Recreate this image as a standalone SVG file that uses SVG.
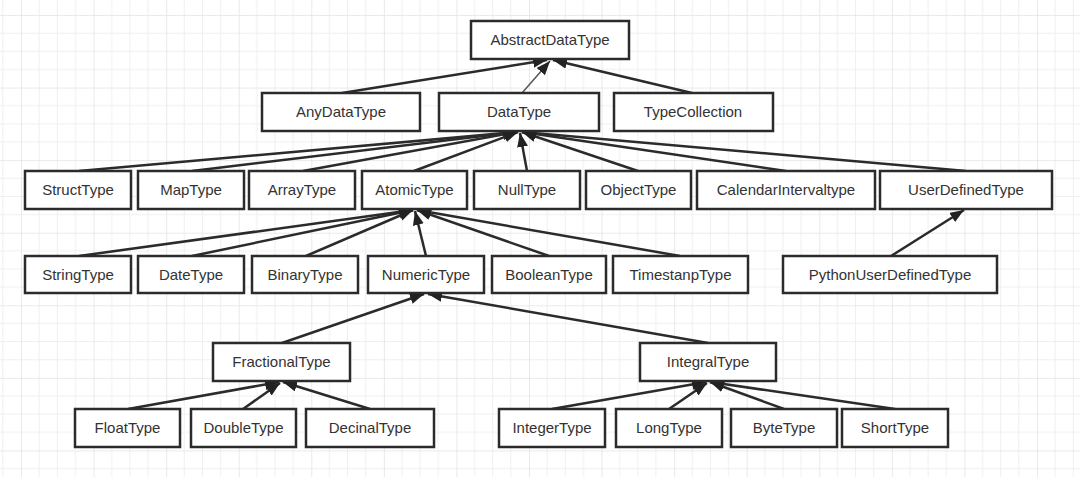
<svg xmlns="http://www.w3.org/2000/svg" width="1080" height="477" viewBox="0 0 1080 477">
<style>
.node rect{fill:#fff;stroke:#2b2b2b;stroke-width:2.5}
.node text{font-family:"Liberation Sans",Arial,sans-serif;font-size:15px;fill:#333;text-anchor:middle}
.edges line{stroke:#2b2b2b;stroke-width:2.5;marker-end:url(#arr)}
.edges line.thin{stroke:#555;stroke-width:1.5;marker-end:url(#arr2)}
</style>
<defs>
<pattern id="grid" patternUnits="userSpaceOnUse" x="21" y="15" width="72.57" height="72.57">
<path d="M18.14 0V72.57M36.29 0V72.57M54.43 0V72.57M0 18.14H72.57M0 36.29H72.57M0 54.43H72.57" stroke="#efefef" stroke-width="1" fill="none"/>
<path d="M0 0V72.57M0 0H72.57" stroke="#e4e4e4" stroke-width="1.6" fill="none"/>
</pattern>
<marker id="arr" markerUnits="userSpaceOnUse" markerWidth="16" markerHeight="12" refX="14" refY="5.5" orient="auto">
<path d="M0 0L14 5.5L0 11z" fill="#222"/>
</marker>
<marker id="arr2" markerUnits="userSpaceOnUse" markerWidth="16" markerHeight="12" refX="14" refY="5.5" orient="auto">
<path d="M0 0L14 5.5L0 11z" fill="#222"/>
</marker>
</defs>
<rect width="1080" height="477" fill="#fff"/>
<rect width="1080" height="477" fill="url(#grid)"/>

<g class="edges">
<line x1="342" y1="93" x2="547" y2="60"/>
<line class="thin" x1="522" y1="93" x2="550" y2="61"/>
<line x1="692" y1="93" x2="553" y2="60"/>

<line x1="79" y1="171" x2="517" y2="132"/>
<line x1="192" y1="171" x2="517" y2="132"/>
<line x1="303" y1="171" x2="517" y2="132"/>
<line x1="414" y1="171" x2="518" y2="132"/>
<line x1="527" y1="171" x2="520" y2="133"/>
<line x1="638" y1="171" x2="522" y2="132"/>
<line x1="786" y1="171" x2="522" y2="132"/>
<line x1="966" y1="171" x2="522" y2="132"/>

<line x1="79" y1="256" x2="413" y2="210"/>
<line x1="192" y1="256" x2="413" y2="210"/>
<line x1="306" y1="256" x2="413" y2="210"/>
<line x1="426" y1="256" x2="415" y2="211"/>
<line x1="549" y1="256" x2="417" y2="210"/>
<line x1="680" y1="256" x2="417" y2="210"/>

<line x1="891" y1="256" x2="964" y2="210"/>

<line x1="282" y1="343" x2="424" y2="294"/>
<line x1="708" y1="343" x2="428" y2="294"/>

<line x1="128" y1="409" x2="279" y2="382"/>
<line x1="243" y1="409" x2="280" y2="383"/>
<line x1="370" y1="409" x2="283" y2="382"/>

<line x1="552" y1="409" x2="706" y2="382"/>
<line x1="669" y1="409" x2="707" y2="383"/>
<line x1="784" y1="409" x2="710" y2="382"/>
<line x1="895" y1="409" x2="710" y2="382"/>
</g>

<g id="AbstractDataType" class="node"><rect x="471" y="21" width="158" height="38"/><text x="550" y="45">AbstractDataType</text></g>
<g id="AnyDataType" class="node"><rect x="262" y="93" width="158" height="38"/><text x="341" y="117">AnyDataType</text></g>
<g id="DataType" class="node"><rect x="439" y="93" width="160" height="38"/><text x="519" y="117">DataType</text></g>
<g id="TypeCollection" class="node"><rect x="614" y="93" width="159" height="38"/><text x="693" y="117">TypeCollection</text></g>

<g id="StructType" class="node"><rect x="25" y="171" width="106" height="38"/><text x="78" y="195">StructType</text></g>
<g id="MapType" class="node"><rect x="138" y="171" width="106" height="38"/><text x="191" y="195">MapType</text></g>
<g id="ArrayType" class="node"><rect x="249" y="171" width="106" height="38"/><text x="302" y="195">ArrayType</text></g>
<g id="AtomicType" class="node"><rect x="362" y="171" width="105" height="38"/><text x="414.5" y="195">AtomicType</text></g>
<g id="NullType" class="node"><rect x="474" y="171" width="106" height="38"/><text x="527" y="195">NullType</text></g>
<g id="ObjectType" class="node"><rect x="586" y="171" width="105" height="38"/><text x="638.5" y="195">ObjectType</text></g>
<g id="CalendarIntervaltype" class="node"><rect x="697" y="171" width="178" height="38"/><text x="786" y="195">CalendarIntervaltype</text></g>
<g id="UserDefinedType" class="node"><rect x="880" y="171" width="172" height="38"/><text x="966" y="195">UserDefinedType</text></g>

<g id="StringType" class="node"><rect x="25" y="256" width="106" height="37"/><text x="78" y="280">StringType</text></g>
<g id="DateType" class="node"><rect x="138" y="256" width="106" height="37"/><text x="191" y="280">DateType</text></g>
<g id="BinaryType" class="node"><rect x="252" y="256" width="106" height="37"/><text x="305" y="280">BinaryType</text></g>
<g id="NumericType" class="node"><rect x="368" y="256" width="116" height="37"/><text x="426" y="280">NumericType</text></g>
<g id="BooleanType" class="node"><rect x="492" y="256" width="114" height="37"/><text x="549" y="280">BooleanType</text></g>
<g id="TimestanpType" class="node"><rect x="613" y="256" width="135" height="37"/><text x="680.5" y="280">TimestanpType</text></g>
<g id="PythonUserDefinedType" class="node"><rect x="783" y="256" width="214" height="37"/><text x="890" y="280">PythonUserDefinedType</text></g>

<g id="FractionalType" class="node"><rect x="213" y="343" width="137" height="38"/><text x="281.5" y="367">FractionalType</text></g>
<g id="IntegralType" class="node"><rect x="640" y="343" width="136" height="38"/><text x="708" y="367">IntegralType</text></g>

<g id="FloatType" class="node"><rect x="75" y="409" width="105" height="38"/><text x="127.5" y="433">FloatType</text></g>
<g id="DoubleType" class="node"><rect x="191" y="409" width="105" height="38"/><text x="243.5" y="433">DoubleType</text></g>
<g id="DecinalType" class="node"><rect x="306" y="409" width="128" height="38"/><text x="370" y="433">DecinalType</text></g>
<g id="IntegerType" class="node"><rect x="499" y="409" width="106" height="38"/><text x="552" y="433">IntegerType</text></g>
<g id="LongType" class="node"><rect x="616" y="409" width="106" height="38"/><text x="669" y="433">LongType</text></g>
<g id="ByteType" class="node"><rect x="731" y="409" width="106" height="38"/><text x="784" y="433">ByteType</text></g>
<g id="ShortType" class="node"><rect x="842" y="409" width="106" height="38"/><text x="895" y="433">ShortType</text></g>
</svg>
